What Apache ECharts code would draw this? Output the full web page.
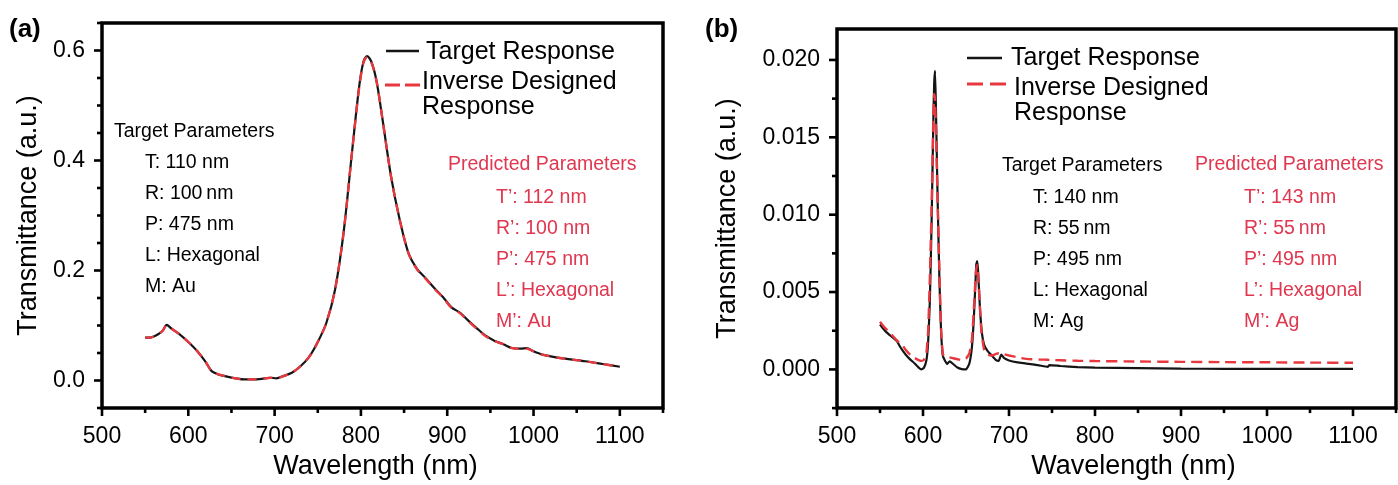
<!DOCTYPE html>
<html>
<head>
<meta charset="utf-8">
<script src="https://cdn.jsdelivr.net/npm/echarts@6/dist/echarts.min.js"></script>
<style>
  html, body { margin: 0; padding: 0; background: #fff; }
  #chart { width: 1398px; height: 485px; }
</style>
</head>
<body>
<div id="chart"></div>
<script>
// ---- Panel (a): Au hexagonal array ----
const wavelengthA = [550, 555, 560, 565, 570, 575, 580, 590, 600, 610, 620, 627, 635, 645, 655, 665, 675, 685, 695, 702,
  710, 720, 730, 740, 750, 760, 770, 780, 790, 798, 803, 807, 812, 818, 825, 835, 845, 855, 865, 875,
  885, 895, 905, 915, 925, 935, 945, 955, 965, 975, 985, 992, 1000, 1010, 1020, 1030, 1045, 1060, 1080, 1100];
const targetA = [0.078, 0.078, 0.080, 0.084, 0.090, 0.101, 0.095, 0.084, 0.070, 0.054, 0.034, 0.017, 0.011, 0.007, 0.004, 0.002, 0.002, 0.003, 0.005, 0.004,
  0.008, 0.014, 0.026, 0.043, 0.070, 0.105, 0.165, 0.270, 0.420, 0.535, 0.580, 0.590, 0.580, 0.545, 0.475, 0.370, 0.292, 0.232, 0.203, 0.186,
  0.168, 0.152, 0.133, 0.123, 0.108, 0.094, 0.081, 0.072, 0.066, 0.059, 0.058, 0.059, 0.053, 0.047, 0.044, 0.041, 0.038, 0.035, 0.030, 0.025];
const predictedA = [0.078, 0.078, 0.080, 0.084, 0.090, 0.100, 0.095, 0.084, 0.070, 0.054, 0.034, 0.017, 0.011, 0.007, 0.004, 0.002, 0.002, 0.003, 0.005, 0.004,
  0.008, 0.014, 0.026, 0.043, 0.070, 0.105, 0.165, 0.270, 0.420, 0.533, 0.578, 0.588, 0.579, 0.545, 0.475, 0.370, 0.292, 0.232, 0.202, 0.185,
  0.167, 0.151, 0.132, 0.122, 0.107, 0.093, 0.080, 0.072, 0.066, 0.059, 0.058, 0.058, 0.053, 0.047, 0.044, 0.041, 0.038, 0.035, 0.030, 0.025];

// ---- Panel (b): Ag hexagonal array ----
const wavelengthB = [550, 555, 560, 565, 570, 573, 576, 580, 585, 590, 595, 598, 601, 604, 606, 608, 610, 612, 613, 614,
  615, 617, 619, 621, 623, 625, 628, 631, 635, 640, 645, 650, 654, 657, 659, 661, 662, 663, 664, 666,
  668, 671, 675, 680, 685, 688, 691, 694, 700, 710, 720, 735, 745, 747, 760, 780, 800, 850, 900, 950,
  1000, 1050, 1100];
const targetB = [0.00290, 0.00255, 0.00228, 0.00205, 0.00180, 0.00150, 0.00125, 0.00095, 0.00065, 0.00040, 0.00012, 0.00000, 0.00010, 0.00060, 0.00180, 0.00450, 0.00950, 0.01600, 0.01850, 0.01930,
  0.01700, 0.01100, 0.00600, 0.00250, 0.00090, 0.00062, 0.00035, 0.00052, 0.00035, 0.00012, 0.00002, 0.00000, 0.00040, 0.00150, 0.00320, 0.00560, 0.00680, 0.00700, 0.00640, 0.00420,
  0.00260, 0.00160, 0.00120, 0.00090, 0.00060, 0.00055, 0.00096, 0.00075, 0.00058, 0.00045, 0.00038, 0.00026, 0.00017, 0.00028, 0.00022, 0.00015, 0.00011, 0.00008, 0.00005, 0.00004,
  0.00003, 0.00003, 0.00003];
const predictedB = [0.00308, 0.00272, 0.00245, 0.00215, 0.00185, 0.00170, 0.00158, 0.00125, 0.00095, 0.00075, 0.00060, 0.00055, 0.00062, 0.00110, 0.00250, 0.00600, 0.01050, 0.01620, 0.01780, 0.01740,
  0.01550, 0.01100, 0.00650, 0.00260, 0.00100, 0.00085, 0.00080, 0.00078, 0.00072, 0.00066, 0.00060, 0.00070, 0.00105, 0.00200, 0.00380, 0.00580, 0.00650, 0.00674, 0.00620, 0.00420,
  0.00240, 0.00130, 0.00095, 0.00090, 0.00100, 0.00104, 0.00102, 0.00098, 0.00090, 0.00078, 0.00068, 0.00064, 0.00062, 0.00061, 0.00059, 0.00056, 0.00054, 0.00051, 0.00049, 0.00047,
  0.00046, 0.00044, 0.00043];

// ---- Tick labels ----
const xTicks = [500, 600, 700, 800, 900, 1000, 1100];
const yTicksA = [0, 0.2, 0.4, 0.6];
const yTicksB = [0, 0.005, 0.01, 0.015, 0.02];

// ---- Parameter annotations ----
const targetParamsA = ['T: 110 nm', 'R: 100\u2009nm', 'P: 475 nm', 'L: Hexagonal', 'M: Au'];
const predictedParamsA = ['T\u2019: 112 nm', 'R\u2019: 100 nm', 'P\u2019: 475 nm', 'L\u2019: Hexagonal', 'M\u2019: Au'];
const targetParamsB = ['T: 140 nm', 'R: 55\u2009nm', 'P: 495 nm', 'L: Hexagonal', 'M: Ag'];
const predictedParamsB = ['T\u2019: 143 nm', 'R\u2019: 55\u2009nm', 'P\u2019: 495 nm', 'L\u2019: Hexagonal', 'M\u2019: Ag'];

const FONT = '"Liberation Sans", Arial, Helvetica, sans-serif';
const BLACK = '#151515';
const RED_LINE = '#e8383f';
const RED_TEXT = '#e0364f';

const X_RANGE = [500, 1150, 50];
const Y_RANGE_A = [-0.05, 0.65, 0.05];
const Y_RANGE_B = [-0.0025, 0.022, 0.0025];

const pairs = (xs, ys) => xs.map((x, i) => [x, ys[i]]);

function xAxisFor(gridIndex, nameGap, namePadding) {
  return {
    gridIndex, type: 'value', position: 'bottom', min: X_RANGE[0], max: X_RANGE[1], interval: X_RANGE[2],
    axisLine: { show: false, onZero: false }, axisTick: { show: false }, splitLine: { show: false },
    axisLabel: {
      show: true, customValues: xTicks, fontSize: 23, color: '#000', margin: 17, fontFamily: FONT,
      formatter: v => String(v)
    },
    name: 'Wavelength (nm)', nameLocation: 'middle', nameGap,
    nameTextStyle: { fontSize: 27, color: '#000', fontFamily: FONT, padding: namePadding }
  };
}
function yAxisFor(gridIndex, range, ticks, digits, nameGap) {
  return {
    gridIndex, type: 'value', position: 'left', min: range[0], max: range[1], interval: range[2],
    axisLine: { show: false, onZero: false }, axisTick: { show: false }, splitLine: { show: false },
    axisLabel: {
      show: true, customValues: ticks, fontSize: 23, color: '#000', margin: 17, fontFamily: FONT,
      formatter: v => Number(v).toFixed(digits)
    },
    name: 'Transmittance (a.u.)', nameLocation: 'middle', nameGap,
    nameTextStyle: { fontSize: 27, color: '#000', fontFamily: FONT }
  };
}

function textEl(x, y, text, size, color, weight) {
  return {
    type: 'text', x, y, silent: true,
    style: {
      text, fill: color || '#000', align: 'left', verticalAlign: 'middle',
      font: (weight || 'normal') + ' ' + size + 'px ' + FONT
    }
  };
}
function segment(x1, y1, x2, y2, color, width, dash) {
  return {
    type: 'line', silent: true, z: 10,
    shape: { x1, y1, x2, y2 },
    style: { stroke: color, lineWidth: width, lineDash: dash || null }
  };
}
function paramBlock(xHead, yHead, head, xItems, yFirst, items, color) {
  const els = [textEl(xHead, yHead, head, 19.5, color)];
  items.forEach((t, i) => els.push(textEl(xItems, yFirst + 31 * i, t, 19.5, color)));
  return els;
}

const chart = echarts.init(document.getElementById('chart'), null, { renderer: 'canvas' });
chart.setOption({
  animation: false,
  backgroundColor: '#fff',
  textStyle: { fontFamily: FONT },
  grid: [
    { left: 102, top: 23, width: 561, height: 385, show: false },
    { left: 837, top: 29, width: 559, height: 383, show: false }
  ],
  xAxis: [xAxisFor(0, 44, [0, 14, 0, 0]), xAxisFor(1, 42, [0, 0, 0, 34])],
  yAxis: [yAxisFor(0, Y_RANGE_A, yTicksA, 1, 60), yAxisFor(1, Y_RANGE_B, yTicksB, 3, 96)],
  series: [
    {
      name: 'Target Response', type: 'line', xAxisIndex: 0, yAxisIndex: 0,
      data: pairs(wavelengthA, targetA), showSymbol: false, smooth: 0.3,
      lineStyle: { color: BLACK, width: 2.2 }, z: 2
    },
    {
      name: 'Inverse Designed Response', type: 'line', xAxisIndex: 0, yAxisIndex: 0,
      data: pairs(wavelengthA, predictedA), showSymbol: false, smooth: 0.3,
      lineStyle: { color: RED_LINE, width: 2.4, type: [9, 7] }, z: 3
    },
    {
      name: 'Target Response', type: 'line', xAxisIndex: 1, yAxisIndex: 1,
      data: pairs(wavelengthB, targetB), showSymbol: false, smooth: 0.15,
      lineStyle: { color: BLACK, width: 2.2 }, z: 2
    },
    {
      name: 'Inverse Designed Response', type: 'line', xAxisIndex: 1, yAxisIndex: 1,
      data: pairs(wavelengthB, predictedB), showSymbol: false, smooth: 0.15,
      lineStyle: { color: RED_LINE, width: 2.4, type: [11, 6] }, z: 3
    }
  ]
});

// Frame box plus outward ticks, positioned through each grid's own scales
function frameFor(gridIndex, yRange, yMajor) {
  const toPx = (x, y) => chart.convertToPixel({ gridIndex }, [x, y]);
  const [x0, y0] = toPx(X_RANGE[0], yRange[0]);
  const [x1, y1] = toPx(X_RANGE[1], yRange[1]);
  const els = [{
    type: 'rect', silent: true, z: 10,
    shape: { x: x0, y: y1, width: x1 - x0, height: y0 - y1 },
    style: { fill: 'none', stroke: '#000', lineWidth: 3.5 }
  }];
  const nx = Math.floor((X_RANGE[1] - X_RANGE[0]) / X_RANGE[2] + 1e-6);
  for (let i = 0; i <= nx; i++) {
    const v = X_RANGE[0] + i * X_RANGE[2];
    const major = xTicks.some(t => Math.abs(t - v) < 1e-6);
    const px = toPx(v, yRange[0])[0];
    els.push(segment(px, y0, px, y0 + (major ? 8 : 5), '#000', 2.6));
  }
  const ny = Math.floor((yRange[1] - yRange[0]) / yRange[2] + 1e-6);
  for (let i = 0; i <= ny; i++) {
    const v = yRange[0] + i * yRange[2];
    const major = yMajor.some(t => Math.abs(t - v) < yRange[2] / 100);
    const py = toPx(X_RANGE[0], v)[1];
    els.push(segment(x0, py, x0 - (major ? 8 : 5), py, '#000', 2.6));
  }
  return els;
}

const graphics = [
  ...frameFor(0, Y_RANGE_A, yTicksA),
  ...frameFor(1, Y_RANGE_B, yTicksB),
  // panel (a) heading, legend and parameters
  textEl(9, 30, '(a)', 26, '#000', 'bold'),
  segment(386, 51, 419, 51, BLACK, 2.5),
  textEl(426, 52, 'Target Response', 25),
  segment(385, 85, 421, 85, RED_LINE, 3, [15, 5]),
  textEl(422, 82, 'Inverse Designed', 25),
  textEl(422, 107, 'Response', 25),
  ...paramBlock(114, 132, 'Target Parameters', 145, 163, targetParamsA, '#000'),
  ...paramBlock(448, 165, 'Predicted Parameters', 496, 198, predictedParamsA, RED_TEXT),
  // panel (b) heading, legend and parameters
  textEl(705, 30, '(b)', 26, '#000', 'bold'),
  segment(967, 58, 1002, 58, BLACK, 2.5),
  textEl(1011, 58, 'Target Response', 25),
  segment(967, 84, 1007, 84, RED_LINE, 3, [16, 7]),
  textEl(1014, 88, 'Inverse Designed', 25),
  textEl(1014, 113, 'Response', 25),
  ...paramBlock(1002, 166, 'Target Parameters', 1033, 198, targetParamsB, '#000'),
  ...paramBlock(1195, 165, 'Predicted Parameters', 1244, 198, predictedParamsB, RED_TEXT)
];

chart.setOption({ graphic: graphics });
</script>
</body>
</html>
